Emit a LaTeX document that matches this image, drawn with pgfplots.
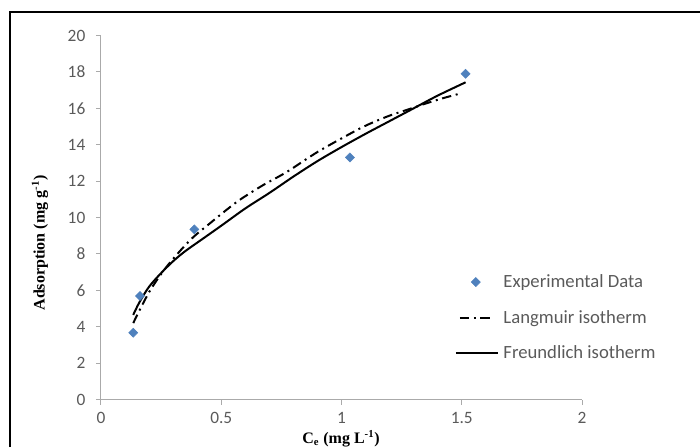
\documentclass[border=0pt]{standalone}
\usepackage{pgfplots}
\pgfplotsset{compat=1.18}
\usepackage{fontspec}
\setmainfont{Liberation Serif}
\newfontfamily\calibri{Carlito}
\definecolor{expblue}{RGB}{79,129,189}
\definecolor{ticktext}{RGB}{90,90,90}
\definecolor{axisgray}{RGB}{170,170,170}

\pgfplotsset{
  markleg/.style={legend image code/.code={\draw[##1] plot coordinates {(12pt,0pt)};}},
  dashleg/.style={legend image code/.code={\draw[##1] (0pt,0pt) -- (26pt,0pt);}},
  lineleg/.style={legend image code/.code={\draw[##1] (-3pt,0pt) -- (29pt,0pt);}},
}

\begin{document}
\begin{tikzpicture}[x=0.75pt,y=0.75pt]
\useasboundingbox (0,0) rectangle (700,447);
\draw[line width=1.8pt] (10,0) -- (10,435) -- (700,435);
\begin{axis}[
  at={(75.75pt,35.6pt)}, anchor=south west,
  scale only axis, width=360.75pt, height=273pt,
  xmin=0, xmax=2, ymin=0, ymax=20,
  xtick={0,0.5,1,1.5,2}, ytick={0,2,...,20},
  axis x line*=bottom, axis y line*=left,
  axis line style={axisgray, line width=0.75pt, -},
  tick style={axisgray, line width=0.75pt},
  tick align=outside, major tick length=3.75pt,
  /pgf/number format/assume math mode=true,
  tick label style={font=\calibri\fontsize{13}{15}\selectfont, text=ticktext},
  yticklabel style={xshift=-4.5pt},
  xticklabel style={yshift=-2.5pt},
  every axis x label/.style={at={(axis description cs:0.499,-0.108)}, anchor=center},
  every axis y label/.style={at={(axis description cs:-0.127,0.43)}, anchor=center, rotate=90},
  label style={font=\bfseries\fontsize{12}{14}\selectfont},
  xlabel={C\textsubscript{e} (mg L\textsuperscript{-1})},
  ylabel={Adsorption (mg g\textsuperscript{-1})},
  legend style={draw=none, fill=none, at={(axis cs:1.47,7.1)}, anchor=north west,
    font=\calibri\fontsize{14}{16}\selectfont, text=ticktext, row sep=9.5pt,
    inner sep=0pt, nodes={inner sep=3pt}},
  legend cell align=left,
  clip=false,
]
\addplot[only marks, mark=square*, mark size=2.4pt, color=expblue,
  mark options={rotate=45}, markleg]
  coordinates {(0.134,3.67) (0.162,5.69) (0.388,9.35) (1.035,13.3) (1.516,17.9)};
\addlegendentry{Experimental Data}
\addplot[black, line width=1.5pt, smooth, dash pattern=on 7pt off 3.5pt on 1.5pt off 3.5pt, dashleg]
  coordinates {(0.134,4.2) (0.2,5.9) (0.273,7.3) (0.37,8.75) (0.45,9.65) (0.564,10.85)
    (0.67,11.75) (0.772,12.5) (0.9,13.6) (1.035,14.6) (1.109,15.1) (1.2,15.6)
    (1.28,15.95) (1.347,16.25) (1.42,16.55) (1.49,16.8)};
\addlegendentry{Langmuir isotherm}
\addplot[black, line width=1.5pt, smooth, lineleg]
  coordinates {(0.134,4.65) (0.16,5.35) (0.2,6.2) (0.25,6.95) (0.3,7.6) (0.35,8.15)
    (0.425,8.85) (0.5,9.55) (0.6,10.5) (0.7,11.35) (0.8,12.25) (0.9,13.1) (1.0,13.87)
    (1.1,14.6) (1.2,15.3) (1.3,16.0) (1.4,16.7) (1.516,17.43)};
\addlegendentry{Freundlich isotherm}
\end{axis}
\end{tikzpicture}
\end{document}
